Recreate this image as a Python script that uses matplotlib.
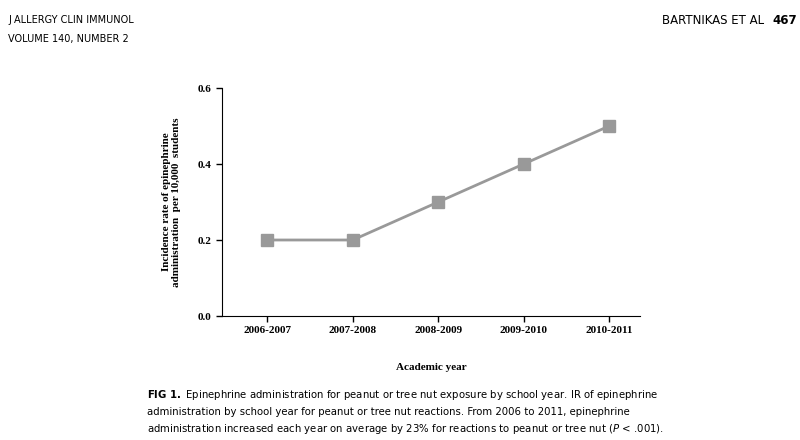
import matplotlib.pyplot as plt

# DATA ########################################################################

years = ["2006-2007", "2007-2008", "2008-2009", "2009-2010", "2010-2011"]
rates = [0.2, 0.2, 0.3, 0.4, 0.5]
yticks = [0.0, 0.2, 0.4, 0.6]

# FIGURE ######################################################################

W, H = 800, 440
fig = plt.figure(figsize=(W / 100, H / 100), dpi=100)
ax = fig.add_axes([222 / W, 1 - 316 / H, (640 - 222) / W, (316 - 88) / H])

xs = list(range(len(years)))
ax.plot(xs, rates, color="#999999", lw=2, marker="s", ms=8,
        markerfacecolor="#999999", markeredgecolor="#999999")

ax.set_xlim(-0.53, 4.36)
ax.set_ylim(0, 0.6)
ax.set_xticks(xs)
ax.set_xticklabels(years, fontfamily="Liberation Serif", fontweight="bold", fontsize=8)
ax.set_yticks(yticks)
ax.set_yticklabels(["%.1f" % v for v in yticks],
                   fontfamily="Liberation Serif", fontweight="bold", fontsize=8)
ax.spines["top"].set_visible(False)
ax.spines["right"].set_visible(False)
ax.tick_params(width=1, length=4)
ax.set_xlabel("Academic year", fontfamily="Liberation Serif",
              fontweight="bold", fontsize=8, labelpad=20)
ax.set_ylabel("Incidence rate of epinephrine\nadministration  per 10,000  students",
              fontfamily="Liberation Serif", fontweight="bold", fontsize=8, labelpad=12)

# HEADER AND CAPTION ##########################################################

fig.text(8 / W, 1 - 20 / H, "J ALLERGY CLIN IMMUNOL", fontsize=7, va="center")
fig.text(8 / W, 1 - 39 / H, "VOLUME 140, NUMBER 2", fontsize=7, va="center")
fig.text(772 / W, 1 - 20 / H, "BARTNIKAS ET AL  ", fontsize=8.5, ha="right", va="center")
fig.text(772 / W, 1 - 20 / H, "467", fontsize=8.5, ha="left", va="center",
         fontweight="bold")

caption = [
    (r"$\bf{FIG\ 1.}$ Epinephrine administration for peanut or tree nut exposure by school year. IR of epinephrine", 395),
    ("administration by school year for peanut or tree nut reactions. From 2006 to 2011, epinephrine", 412),
    (r"administration increased each year on average by 23% for reactions to peanut or tree nut ($P$ < .001).", 429),
]
for txt, y in caption:
    fig.text(147 / W, 1 - y / H, txt, fontsize=7.3, va="center")

fig.savefig("out.png", dpi=100)
